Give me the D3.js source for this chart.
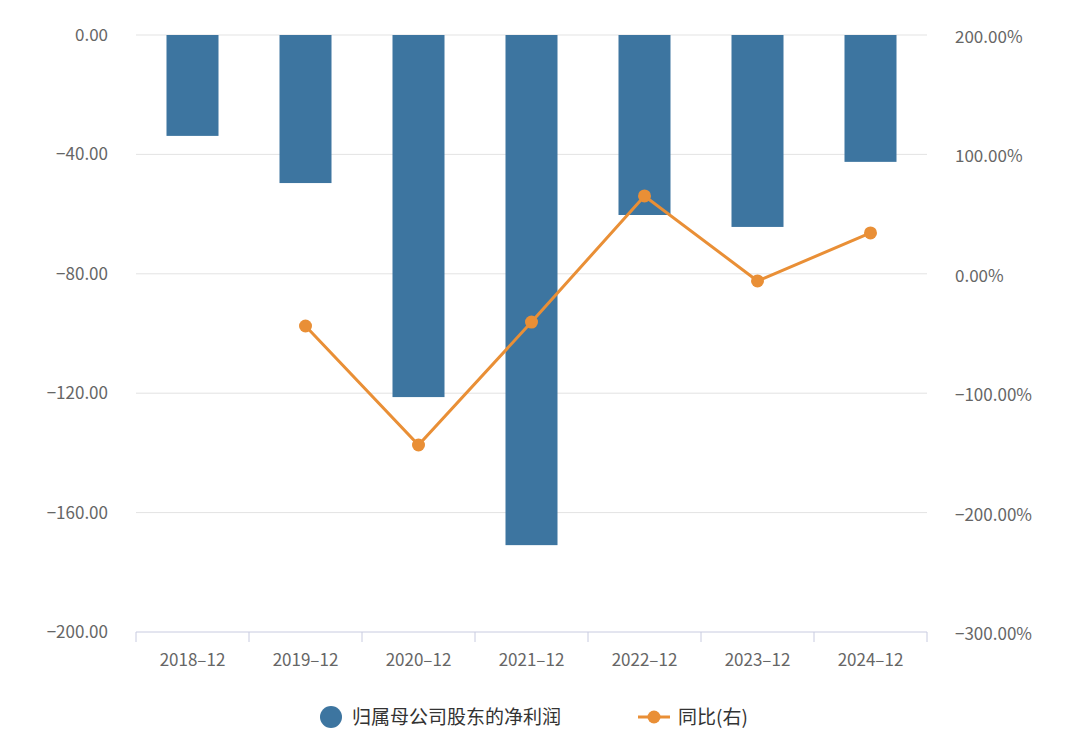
<!DOCTYPE html>
<html>
<head>
<meta charset="utf-8">
<script src="https://d3js.org/d3.v7.min.js"></script>
<style>
  body { margin: 0; background: #fff; }
  text { font-family: "Noto Sans CJK SC", "Noto Sans", sans-serif; }
</style>
</head>
<body>
<script>
// data
var years = ["2018-12", "2019-12", "2020-12", "2021-12", "2022-12", "2023-12", "2024-12"];
var profit = [-33.8, -49.6, -121.3, -170.9, -60.3, -64.3, -42.5];
var yoy = [null, -43.7, -143.4, -40.4, 65.2, -6.0, 34.2];
var leftTicks = [0, -40, -80, -120, -160, -200];
var rightTicks = [200, 100, 0, -100, -200, -300];

var svg = d3.select("body").append("svg").attr("width", 1080).attr("height", 750);

var x = d3.scaleBand().domain(years).range([136, 927]);
var yL = d3.scaleLinear().domain([-200, 0]).range([632, 35]);
var yR = d3.scaleLinear().domain([-300, 200]).range([632, 35]);

// grid
svg.selectAll(".grid").data(leftTicks.slice(0, 5)).enter().append("line")
  .attr("x1", 136).attr("x2", 927)
  .attr("y1", d => yL(d)).attr("y2", d => yL(d))
  .attr("stroke", "#e3e3e3").attr("stroke-width", 1);

// x axis line + ticks
svg.append("line").attr("x1", 136).attr("x2", 927).attr("y1", 632).attr("y2", 632)
  .attr("stroke", "#c8cbe0");
svg.selectAll(".xt").data(d3.range(years.length + 1)).enter().append("line")
  .attr("x1", i => 136 + i * x.bandwidth()).attr("x2", i => 136 + i * x.bandwidth())
  .attr("y1", 632).attr("y2", 642).attr("stroke", "#c8cbe0");

svg.selectAll(".xl").data(years).enter().append("text")
  .attr("x", d => x(d) + x.bandwidth() / 2).attr("y", 666)
  .attr("text-anchor", "middle").attr("font-size", 17).attr("fill", "#666")
  .text(d => d.replace("-", "–"));

svg.selectAll(".yl").data(leftTicks).enter().append("text")
  .attr("x", 108).attr("y", d => yL(d) + 6)
  .attr("text-anchor", "end").attr("font-size", 17).attr("fill", "#666")
  .text(d => (d < 0 ? "−" : "") + Math.abs(d).toFixed(2));

svg.selectAll(".yr").data(rightTicks).enter().append("text")
  .attr("x", 955).attr("y", d => yR(d) + 8)
  .attr("text-anchor", "start").attr("font-size", 17).attr("fill", "#666")
  .text(d => (d < 0 ? "−" : "") + Math.abs(d).toFixed(2) + "%");

// bars
var bw = 52;
svg.selectAll(".bar").data(profit).enter().append("rect")
  .attr("x", (d, i) => x(years[i]) + x.bandwidth() / 2 - bw / 2)
  .attr("y", yL(0)).attr("width", bw)
  .attr("height", d => yL(d) - yL(0))
  .attr("fill", "#3d75a0");

// line
var pts = yoy.map((d, i) => [years[i], d]).filter(p => p[1] !== null);
svg.append("path").datum(pts)
  .attr("d", d3.line().x(p => x(p[0]) + x.bandwidth() / 2).y(p => yR(p[1])))
  .attr("fill", "none").attr("stroke", "#e98f36").attr("stroke-width", 3);
svg.selectAll(".dot").data(pts).enter().append("circle")
  .attr("cx", p => x(p[0]) + x.bandwidth() / 2).attr("cy", p => yR(p[1]))
  .attr("r", 6.5).attr("fill", "#e98f36");

// legend
var lg = svg.append("g");
lg.append("circle").attr("cx", 331).attr("cy", 717).attr("r", 11).attr("fill", "#3d75a0");
lg.append("text").attr("x", 352).attr("y", 724).attr("font-size", 19).attr("fill", "#333")
  .text("归属母公司股东的净利润");
lg.append("line").attr("x1", 638).attr("x2", 670).attr("y1", 717).attr("y2", 717)
  .attr("stroke", "#e98f36").attr("stroke-width", 3);
lg.append("circle").attr("cx", 654).attr("cy", 717).attr("r", 6.5).attr("fill", "#e98f36");
lg.append("text").attr("x", 678).attr("y", 724).attr("font-size", 19).attr("fill", "#333")
  .text("同比(右)");
</script>
</body>
</html>
